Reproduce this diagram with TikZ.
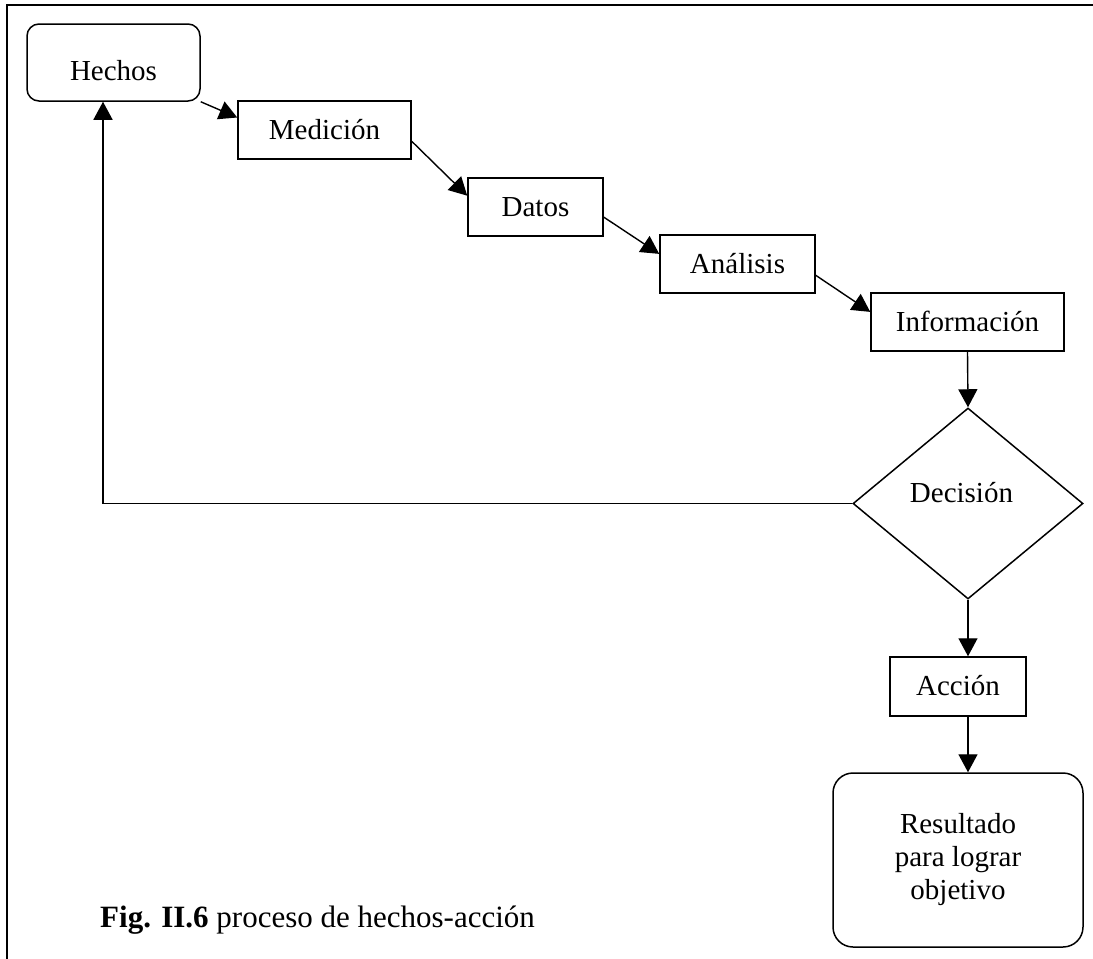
\documentclass[tikz,border=0pt]{standalone}
\usepackage{fontspec}
\setmainfont{Liberation Serif}
\usetikzlibrary{arrows.meta,shapes.geometric,calc}
\begin{document}
\begin{tikzpicture}[x=1pt,y=-1pt,
  every node/.style={font=\fontsize{29}{33}\selectfont},
  outline/.style={draw, line width=1.5pt, inner sep=0pt},
  stepbox/.style={outline, text height=18pt, text depth=0pt},
  roundbox/.style={outline, rounded corners=12pt},
  link/.style={line width=1.4pt, -{Triangle[length=18pt,width=19pt]}}]
\useasboundingbox (0,0) rectangle (1093,959);

% page frame (top and left rules)
\draw[line width=2pt] (1093,5) -- (7,5) -- (7,959);

% process chain
\node[roundbox, minimum width=173pt, minimum height=77pt, text height=35pt, text depth=0pt] (hechos) at (113.5,62.5) {Hechos};
\node[stepbox, minimum width=173pt, minimum height=58pt] (medicion) at (324.5,130) {Medición};
\node[stepbox, minimum width=135pt, minimum height=58pt] (datos) at (535.5,207) {Datos};
\node[stepbox, minimum width=155pt, minimum height=58pt] (analisis) at (737.5,264) {Análisis};
\node[stepbox, minimum width=193pt, minimum height=58pt] (informacion) at (967.5,322) {Información};
\node[outline, diamond, minimum width=230pt, minimum height=191pt] (decision) at (968,503.5) {};
\node[anchor=base, inner sep=0pt] (decisiontext) at (961.5,502) {Decisión};
\node[stepbox, minimum width=136pt, minimum height=59pt] (accion) at (958,686.5) {Acción};
\node[roundbox, rounded corners=20pt, minimum width=250pt, minimum height=174pt, align=center] (resultado) at (958,860) {Resultado\\para lograr\\objetivo};

% caption
\node[anchor=base west, inner sep=0pt, font=\fontsize{31}{35}\selectfont] (caption) at (100,927) {\textbf{Fig. II.6} proceso de hechos-acción};

% connectors
\draw[link] (hechos.south east) -- ($(medicion.north west)!0.29!(medicion.south west)$);
\draw[link] ($(medicion.north east)!0.69!(medicion.south east)$) -- ($(datos.north west)!0.31!(datos.south west)$);
\draw[link] ($(datos.north east)!0.67!(datos.south east)$) -- ($(analisis.north west)!0.33!(analisis.south west)$);
\draw[link] ($(analisis.north east)!0.69!(analisis.south east)$) -- ($(informacion.north west)!0.33!(informacion.south west)$);
\draw[link] (informacion.south) -- (decision.north);
\draw[link] (decision.south) -- (decision.south |- accion.north);
\draw[link] (decision.south |- accion.south) -- (decision.south |- resultado.north);

% feedback loop back to the start
\coordinate (loopcorner) at (103,503.5);
\draw[link] (decision.west) -- (loopcorner) -- (loopcorner |- hechos.south);
\end{tikzpicture}
\end{document}
